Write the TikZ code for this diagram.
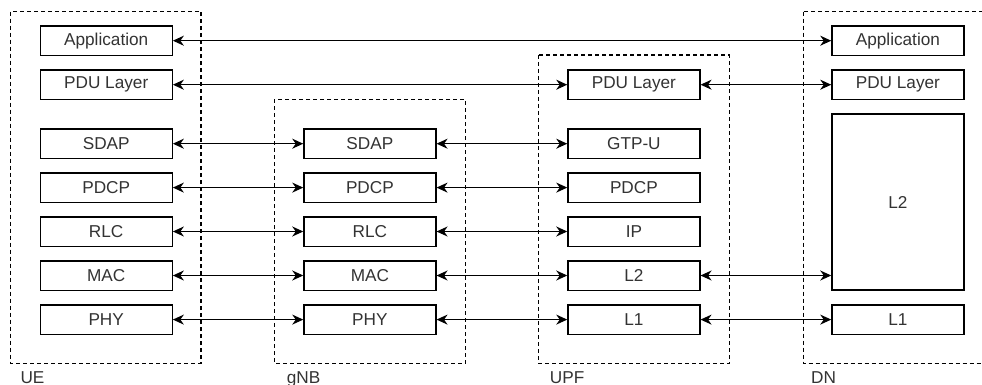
\documentclass[tikz,border=0pt]{standalone}
\usepackage{fontspec}
\setmainfont{Liberation Sans}
\usetikzlibrary{arrows.meta}
\definecolor{txt}{HTML}{333333}
\begin{document}
\begin{tikzpicture}[x=1pt,y=-1pt,
  layer/.style={draw=black,line width=1.3pt,fill=white,minimum width=132pt,minimum height=29.3pt,
    inner sep=0pt,text=txt,font=\fontsize{17.2}{20}\selectfont},
  group/.style={draw=black,line width=1.1pt,dash pattern=on 4pt off 3pt},
  grouplabel/.style={anchor=base west,inner sep=0pt,text=txt,font=\fontsize{17.2}{20}\selectfont},
  link/.style={draw=black,line width=1.3pt,{Stealth[length=11pt,width=10pt,inset=3.5pt]}-{Stealth[length=11pt,width=10pt,inset=3.5pt]}}]
\useasboundingbox (0,0) rectangle (982,385);
\begin{scope}
\clip (0,0) rectangle (982,385);
% dashed network-function outlines
\draw[group] (10.7,11.7) rectangle (201,363.3);
\draw[group] (274.3,99.3) rectangle (465.7,363.3);
\draw[group] (538.3,55) rectangle (729.3,363.3);
\draw[group] (803.3,11.7) rectangle (1000,363.3);
% function names under the outlines
\node[grouplabel] (lue)  at (20.3,383) {UE};
\node[grouplabel] (lgnb) at (286.7,383) {gNB};
\node[grouplabel] (lupf) at (549.7,383) {UPF};
\node[grouplabel] (ldn)  at (811,383) {DN};
\end{scope}
% UE stack
\node[layer] (ueapp)  at (106.2,40.7)  {Application};
\node[layer] (uepdu)  at (106.2,84.7)  {PDU Layer};
\node[layer] (uesdap) at (106.2,143.7) {SDAP};
\node[layer] (uepdcp) at (106.2,187.6) {PDCP};
\node[layer] (uerlc)  at (106.2,231.5) {RLC};
\node[layer] (uemac)  at (106.2,275.5) {MAC};
\node[layer] (uephy)  at (106.2,319.6) {PHY};
% gNB stack
\node[layer] (gsdap) at (369.9,143.7) {SDAP};
\node[layer] (gpdcp) at (369.9,187.6) {PDCP};
\node[layer] (grlc)  at (369.9,231.5) {RLC};
\node[layer] (gmac)  at (369.9,275.5) {MAC};
\node[layer] (gphy)  at (369.9,319.6) {PHY};
% UPF stack
\node[layer] (updu)  at (633.9,84.7)  {PDU Layer};
\node[layer] (ugtp)  at (633.9,143.7) {GTP-U};
\node[layer] (updcp) at (633.9,187.6) {PDCP};
\node[layer] (uip)   at (633.9,231.5) {IP};
\node[layer] (ul2)   at (633.9,275.5) {L2};
\node[layer] (ul1)   at (633.9,319.6) {L1};
% DN stack
\node[layer] (dapp) at (897.9,40.7) {Application};
\node[layer] (dpdu) at (897.9,84.7) {PDU Layer};
\node[layer,minimum height=176pt] (dl2) at (897.9,202) {L2};
\node[layer] (dl1)  at (897.9,319.6) {L1};
% peer links
\draw[link] (ueapp) -- (dapp);
\draw[link] (uepdu) -- (updu);
\draw[link] (updu) -- (dpdu);
\draw[link] (uesdap) -- (gsdap);
\draw[link] (uepdcp) -- (gpdcp);
\draw[link] (uerlc) -- (grlc);
\draw[link] (uemac) -- (gmac);
\draw[link] (uephy) -- (gphy);
\draw[link] (gsdap) -- (ugtp);
\draw[link] (gpdcp) -- (updcp);
\draw[link] (grlc) -- (uip);
\draw[link] (gmac) -- (ul2);
\draw[link] (gphy) -- (ul1);
\draw[link] (ul2.east) -- (ul2.east -| dl2.west);
\draw[link] (ul1) -- (dl1);
\end{tikzpicture}
\end{document}
